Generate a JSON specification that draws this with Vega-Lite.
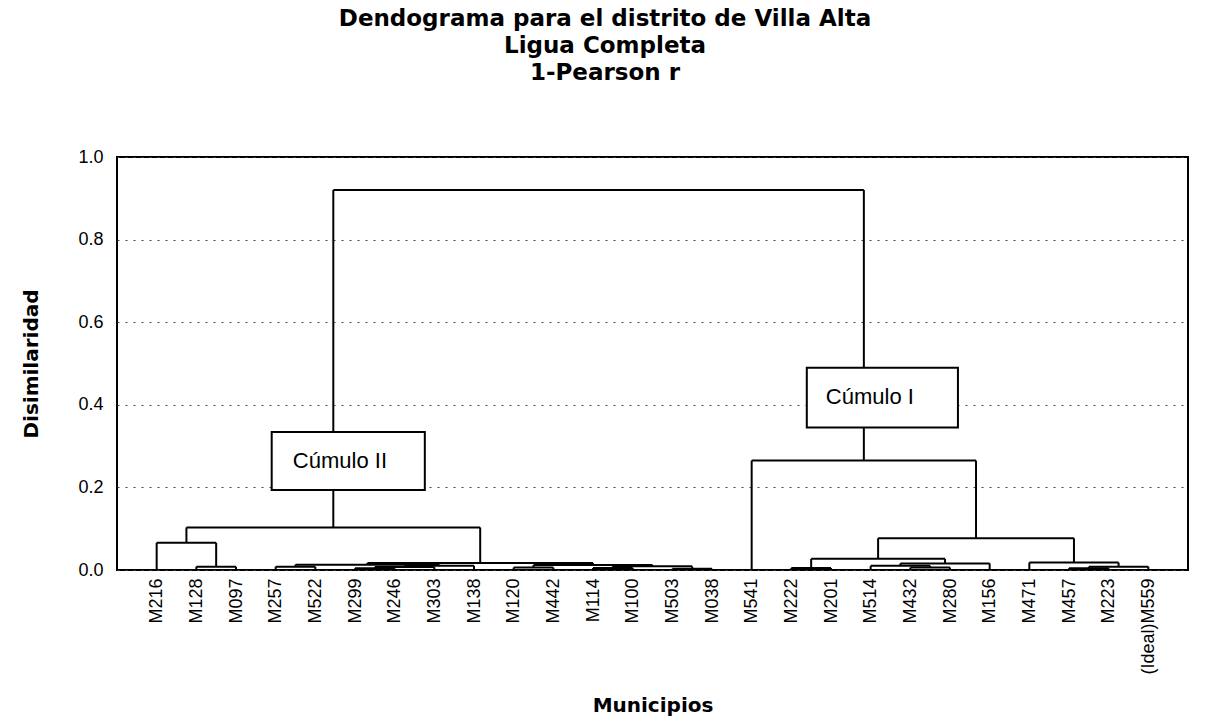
{
  "$schema": "https://vega.github.io/schema/vega-lite/v6.json",
  "width": 1071,
  "height": 413,
  "autosize": {"type": "none"},
  "padding": {"left": 117, "top": 157, "right": 31, "bottom": 156},
  "background": "white",
  "title": {
    "text": ["Dendograma para el distrito de Villa Alta", "Ligua Completa", "1-Pearson r"],
    "anchor": "middle",
    "frame": "bounds",
    "font": "DejaVu Sans",
    "fontSize": 23,
    "fontWeight": "bold",
    "lineHeight": 27,
    "offset": 63,
    "color": "black"
  },
  "config": {
    "view": {"stroke": "black", "strokeWidth": 2},
    "axis": {"labelColor": "black", "titleColor": "black"},
    "axisX": {
      "labelAngle": 270,
      "labelOverlap": false,
      "labelBound": false,
      "labelFlush": false,
      "ticks": false,
      "grid": false,
      "domain": false,
      "labelPadding": 8,
      "labelFont": "Liberation Sans Narrow, Liberation Sans",
      "labelFontSize": 18,
      "titleFont": "DejaVu Sans",
      "titleFontSize": 20,
      "titleFontWeight": "bold",
      "titlePadding": 21
    },
    "axisY": {
      "ticks": false,
      "domain": false,
      "grid": true,
      "gridDash": [2, 6],
      "gridColor": "#444444",
      "gridWidth": 1,
      "labelPadding": 14,
      "labelFont": "Liberation Sans Narrow, Liberation Sans",
      "labelFontSize": 18,
      "titleFont": "DejaVu Sans",
      "titleFontSize": 20,
      "titleFontWeight": "bold",
      "titlePadding": 36
    }
  },
  "datasets": {
    "links": [
      {"node": "n1", "xl": 2, "xr": 3, "hl": 0, "hr": 0, "h": 0.008},
      {"node": "n2", "xl": 1, "xr": 2.5, "hl": 0, "hr": 0.008, "h": 0.066},
      {"node": "a1", "xl": 4, "xr": 5, "hl": 0, "hr": 0, "h": 0.008},
      {"node": "a2", "xl": 6, "xr": 7, "hl": 0, "hr": 0, "h": 0.004},
      {"node": "a3", "xl": 6.5, "xr": 8, "hl": 0.004, "hr": 0, "h": 0.007},
      {"node": "a4", "xl": 7.25, "xr": 9, "hl": 0.007, "hr": 0, "h": 0.010},
      {"node": "X", "xl": 4.5, "xr": 8.125, "hl": 0.008, "hr": 0.010, "h": 0.013},
      {"node": "b1", "xl": 10, "xr": 11, "hl": 0, "hr": 0, "h": 0.006},
      {"node": "b2", "xl": 12, "xr": 13, "hl": 0, "hr": 0, "h": 0.005},
      {"node": "b3", "xl": 14, "xr": 15, "hl": 0, "hr": 0, "h": 0.003},
      {"node": "b4", "xl": 12.5, "xr": 14.5, "hl": 0.005, "hr": 0.003, "h": 0.009},
      {"node": "Y", "xl": 10.5, "xr": 13.5, "hl": 0.006, "hr": 0.009, "h": 0.012},
      {"node": "L2", "xl": 6.3125, "xr": 12, "hl": 0.013, "hr": 0.012, "h": 0.017},
      {"node": "L", "xl": 1.75, "xr": 9.15625, "hl": 0.066, "hr": 0.017, "h": 0.103},
      {"node": "r1", "xl": 17, "xr": 18, "hl": 0, "hr": 0, "h": 0.005},
      {"node": "r2", "xl": 20, "xr": 21, "hl": 0, "hr": 0, "h": 0.006},
      {"node": "r3", "xl": 19, "xr": 20.5, "hl": 0, "hr": 0.006, "h": 0.010},
      {"node": "r4", "xl": 19.75, "xr": 22, "hl": 0.010, "hr": 0, "h": 0.016},
      {"node": "B", "xl": 17.5, "xr": 20.875, "hl": 0.005, "hr": 0.016, "h": 0.027},
      {"node": "c1", "xl": 24, "xr": 25, "hl": 0, "hr": 0, "h": 0.004},
      {"node": "c2", "xl": 24.5, "xr": 26, "hl": 0.004, "hr": 0, "h": 0.008},
      {"node": "C", "xl": 23, "xr": 25.25, "hl": 0, "hr": 0.008, "h": 0.018},
      {"node": "A", "xl": 19.1875, "xr": 24.125, "hl": 0.027, "hr": 0.018, "h": 0.077},
      {"node": "R", "xl": 16, "xr": 21.65625, "hl": 0, "hr": 0.077, "h": 0.265},
      {"node": "Root", "xl": 5.453125, "xr": 18.828125, "hl": 0.103, "hr": 0.265, "h": 0.92}
    ],
    "boxes": [
      {"label": "Cúmulo II", "x1": 3.9, "x2": 7.76, "y1": 0.194, "y2": 0.334, "tx": 5.62, "ty": 0.264},
      {"label": "Cúmulo I", "x1": 17.39, "x2": 21.2, "y1": 0.345, "y2": 0.49, "tx": 18.98, "ty": 0.418}
    ]
  },
  "layer": [
    {
      "data": {"name": "links"},
      "mark": {"type": "rule", "color": "black", "strokeWidth": 2},
      "encoding": {
        "x": {
          "field": "xl", "type": "quantitative", "title": "Municipios",
          "scale": {"domain": [0, 27], "nice": false, "zero": false},
          "axis": {
            "values": [1, 2, 3, 4, 5, 6, 7, 8, 9, 10, 11, 12, 13, 14, 15, 16, 17, 18, 19, 20, 21, 22, 23, 24, 25, 26],
            "labelExpr": "['M216','M128','M097','M257','M522','M299','M246','M303','M138','M120','M442','M114','M100','M503','M038','M541','M222','M201','M514','M432','M280','M156','M471','M457','M223','(Ideal)M559'][datum.value - 1]"
          }
        },
        "x2": {"field": "xr"},
        "y": {
          "field": "h", "type": "quantitative", "title": "Disimilaridad",
          "scale": {"domain": [0, 1], "nice": false},
          "axis": {
            "values": [0, 0.2, 0.4, 0.6, 0.8, 1.0],
            "format": ".1f"
          }
        }
      }
    },
    {
      "data": {"name": "links"},
      "mark": {"type": "rule", "color": "black", "strokeWidth": 2},
      "encoding": {
        "x": {"field": "xl", "type": "quantitative", "title": "Municipios"},
        "y": {"field": "hl", "type": "quantitative", "title": "Disimilaridad"},
        "y2": {"field": "h"}
      }
    },
    {
      "data": {"name": "links"},
      "mark": {"type": "rule", "color": "black", "strokeWidth": 2},
      "encoding": {
        "x": {"field": "xr", "type": "quantitative", "title": "Municipios"},
        "y": {"field": "hr", "type": "quantitative", "title": "Disimilaridad"},
        "y2": {"field": "h"}
      }
    },
    {
      "data": {"name": "boxes"},
      "mark": {"type": "rect", "fill": "white", "stroke": "black", "strokeWidth": 2},
      "encoding": {
        "x": {"field": "x1", "type": "quantitative", "title": "Municipios"},
        "x2": {"field": "x2"},
        "y": {"field": "y1", "type": "quantitative", "title": "Disimilaridad"},
        "y2": {"field": "y2"}
      }
    },
    {
      "data": {"name": "boxes"},
      "mark": {"type": "text", "font": "Liberation Sans", "fontSize": 22, "color": "black", "align": "center", "baseline": "middle"},
      "encoding": {
        "x": {"field": "tx", "type": "quantitative", "title": "Municipios"},
        "y": {"field": "ty", "type": "quantitative", "title": "Disimilaridad"},
        "text": {"field": "label"}
      }
    }
  ]
}
